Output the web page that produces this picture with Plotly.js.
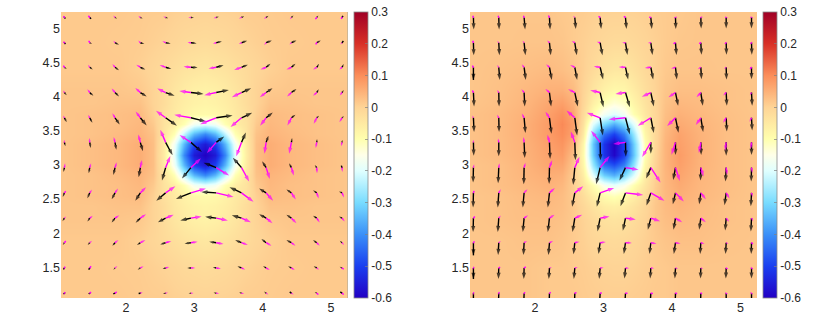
<!DOCTYPE html>
<html>
<head>
<meta charset="utf-8">
<script src="https://cdn.plot.ly/plotly-3.0.1.min.js"></script>
<style>html,body{margin:0;padding:0;background:#fff}</style>
</head>
<body>
<div id="plot" style="width:830px;height:334px"></div>
<script>
// heatmap nodes, y goes bottom to top
var fieldX = [1.05,1.5,1.9,2.2,2.4,2.55,2.7,2.85,3,3.15,3.3,3.45,3.6,3.75,3.9,4.1,4.4,4.8,5.25];
var fieldY = [1.05,1.5,1.9,2.2,2.4,2.55,2.7,2.85,3,3.15,3.3,3.45,3.6,3.75,3.9,4.1,4.4,4.8,5.25];

var leftField = [
 [.015,.015,.015,.012,.01,.01,.005,.003,.002,0,.002,.003,.005,.01,.01,.012,.015,.015,.015],
 [.015,.015,.012,.01,.005,0,-.005,-.012,-.015,-.018,-.015,-.012,-.005,0,.005,.01,.012,.015,.015],
 [.015,.015,.015,.005,-.005,-.015,-.025,-.035,-.04,-.045,-.04,-.035,-.025,-.015,-.005,.005,.015,.015,.015],
 [.02,.02,.02,.015,0,-.02,-.04,-.055,-.065,-.07,-.065,-.055,-.04,-.02,0,.015,.02,.02,.02],
 [.02,.02,.025,.025,0,-.02,-.045,-.06,-.07,-.075,-.07,-.06,-.045,-.02,0,.025,.025,.02,.02],
 [.02,.025,.03,.035,.005,-.03,-.05,-.07,-.085,-.09,-.085,-.07,-.05,-.03,.005,.035,.03,.025,.02],
 [.02,.025,.03,.04,.015,-.035,-.06,-.105,-.17,-.19,-.17,-.105,-.06,-.035,.015,.04,.03,.025,.02],
 [.02,.025,.035,.045,.025,-.04,-.105,-.23,-.35,-.41,-.35,-.23,-.105,-.04,.025,.045,.035,.025,.02],
 [.02,.03,.04,.055,.03,-.055,-.17,-.35,-.50,-.56,-.50,-.35,-.17,-.055,.03,.055,.04,.03,.02],
 [.02,.03,.04,.055,.03,-.06,-.19,-.41,-.56,-.60,-.56,-.41,-.19,-.06,.03,.055,.04,.03,.02],
 [.02,.03,.04,.055,.03,-.055,-.17,-.35,-.50,-.56,-.50,-.35,-.17,-.055,.03,.055,.04,.03,.02],
 [.02,.025,.035,.045,.025,-.04,-.105,-.23,-.35,-.41,-.35,-.23,-.105,-.04,.025,.045,.035,.025,.02],
 [.02,.025,.03,.04,.015,-.035,-.06,-.105,-.17,-.19,-.17,-.105,-.06,-.035,.015,.04,.03,.025,.02],
 [.02,.025,.03,.035,.005,-.03,-.05,-.07,-.085,-.09,-.085,-.07,-.05,-.03,.005,.035,.03,.025,.02],
 [.02,.02,.025,.025,0,-.02,-.045,-.06,-.07,-.075,-.07,-.06,-.045,-.02,0,.025,.025,.02,.02],
 [.02,.02,.02,.015,0,-.02,-.04,-.055,-.065,-.07,-.065,-.055,-.04,-.02,0,.015,.02,.02,.02],
 [.015,.015,.015,.005,-.005,-.015,-.025,-.035,-.04,-.045,-.04,-.035,-.025,-.015,-.005,.005,.015,.015,.015],
 [.015,.015,.012,.01,.005,0,-.005,-.012,-.015,-.018,-.015,-.012,-.005,0,.005,.01,.012,.015,.015],
 [.015,.015,.015,.012,.01,.01,.005,.003,.002,0,.002,.003,.005,.01,.01,.012,.015,.015,.015]
];
var rightField = [
 [.02,.02,.02,.015,.015,.015,.012,.01,.008,.008,.008,.01,.012,.015,.015,.02,.02,.02,.02],
 [.02,.02,.02,.015,.015,.012,.01,.005,.002,0,0,.003,.008,.012,.015,.02,.02,.02,.02],
 [.02,.02,.025,.025,.02,.012,.005,-.005,-.012,-.015,-.012,-.005,.005,.015,.022,.028,.028,.022,.02],
 [.02,.025,.03,.03,.025,.015,.002,-.015,-.03,-.035,-.03,-.018,0,.018,.03,.038,.032,.025,.02],
 [.02,.025,.032,.035,.03,.015,-.008,-.035,-.058,-.065,-.055,-.035,-.008,.018,.035,.045,.035,.025,.02],
 [.02,.025,.035,.04,.032,.012,-.02,-.06,-.095,-.11,-.09,-.06,-.02,.015,.038,.052,.04,.028,.02],
 [.022,.03,.04,.048,.04,.01,-.04,-.10,-.16,-.19,-.16,-.10,-.04,.01,.04,.06,.042,.03,.02],
 [.022,.03,.045,.055,.05,.012,-.06,-.20,-.32,-.36,-.30,-.20,-.06,.005,.042,.068,.045,.03,.02],
 [.022,.03,.048,.065,.065,.02,-.08,-.27,-.44,-.48,-.42,-.27,-.08,0,.045,.075,.048,.03,.02],
 [.025,.035,.05,.07,.08,.03,-.09,-.32,-.52,-.59,-.50,-.32,-.10,-.005,.045,.08,.05,.03,.02],
 [.025,.035,.052,.075,.09,.05,-.08,-.33,-.52,-.60,-.50,-.31,-.10,-.01,.045,.075,.05,.03,.02],
 [.025,.035,.055,.08,.10,.07,-.05,-.28,-.44,-.50,-.42,-.26,-.08,-.01,.04,.07,.048,.03,.02],
 [.025,.035,.055,.08,.105,.075,-.03,-.20,-.30,-.36,-.30,-.19,-.06,-.01,.035,.06,.045,.03,.02],
 [.025,.035,.05,.075,.095,.065,-.015,-.10,-.17,-.20,-.17,-.10,-.045,-.008,.03,.05,.04,.028,.02],
 [.022,.03,.045,.065,.075,.05,-.005,-.065,-.11,-.135,-.12,-.075,-.035,-.005,.025,.04,.035,.025,.02],
 [.02,.028,.04,.05,.052,.035,0,-.04,-.07,-.085,-.08,-.055,-.025,0,.02,.03,.03,.025,.02],
 [.02,.025,.03,.035,.03,.02,.005,-.015,-.035,-.045,-.045,-.03,-.012,.003,.015,.022,.022,.02,.02],
 [.02,.02,.022,.022,.02,.012,.005,-.002,-.01,-.015,-.015,-.01,-.002,.005,.012,.018,.02,.02,.02],
 [.02,.02,.02,.02,.015,.012,.01,.006,.003,.002,.002,.003,.006,.01,.012,.015,.02,.02,.02]
];

// arrow grid, rows run top to bottom
var gridX = [1.10,1.47,1.84,2.21,2.58,2.95,3.32,3.69,4.05,4.42,4.79,5.16];
var gridY = [5.16,4.79,4.43,4.06,3.69,3.33,2.96,2.59,2.22,1.86,1.49,1.12];

// quiver components, one line per row
var leftBlackU = [
 3,4,6,7,8,9,8,8,7,6,5,3,
 3,7,12,12,15,17,17,17,17,15,12,4,
 7,9,12,15,17,20,22,19,13,12,7,5,
 7,11,12,19,27,38,38,29,19,15,6,5,
 7,8,14,19,34,45,49,32,20,12,7,6,
 3,3,4,8,21,33,24,13,7,2,1,1,
 -3,-3,-5,-5,-11,-27,-38,-26,-12,-7,-6,-2,
 -5,-7,-10,-15,-28,-45,-45,-36,-21,-15,-11,-9,
 -6,-7,-10,-14,-23,-32,-33,-29,-21,-15,-11,-9,
 -5,-6,-8,-10,-16,-19,-21,-19,-14,-15,-11,-7,
 -3,-3,-5,-8,-9,-11,-10,-12,-9,-10,-9,-7,
 -3,-3,-5,-5,-8,-7,-8,-7,-6,-5,-6,-5
];
var leftBlackV = [
 -3,-4,-4,-3,-2,-1,2,4,5,6,6,5,
 -4,-4,-6,-4,-3,-2,4,6,7,7,7,5,
 -5,-7,-9,-7,-5,-1,6,8,11,11,11,10,
 -8,-10,-12,-12,-10,-4,8,13,13,11,10,8,
 -13,-15,-20,-23,-24,-11,7,15,16,9,6,5,
 -12,-17,-22,-27,-39,-29,18,30,20,13,10,8,
 -13,-17,-22,-29,-39,-33,15,30,19,13,8,6,
 -12,-16,-19,-24,-24,-18,3,17,13,10,8,4,
 -9,-10,-13,-14,-12,-7,4,9,12,10,7,5,
 -7,-7,-9,-7,-5,-3,3,8,11,8,8,6,
 -4,-5,-5,-5,-3,0,3,5,6,5,5,4,
 -2,-2,-2,-1,-2,0,2,4,5,4,4,4
];
var leftMagentaU = [
 -3,-4,-5,-6,-7,-8,-8,-8,-7,-5,-4,-3,
 -3,-3,-5,-6,-10,-10,-10,-8,-6,-6,-3,-5,
 -3,-5,-8,-12,-18,-22,-23,-22,-17,-15,-11,-8,
 -4,-7,-10,-15,-25,-35,-36,-29,-19,-13,-11,-7,
 -4,-5,-8,-14,-29,-50,-48,-33,-18,-12,-9,-8,
 -1,-1,-4,-6,-16,-34,-28,-16,-5,-7,-3,-3,
 2,4,5,5,14,30,39,23,11,7,1,1,
 4,7,9,17,29,45,52,36,21,13,6,6,
 5,9,13,17,24,32,35,28,19,15,9,8,
 4,7,10,15,17,20,22,19,16,12,9,6,
 2,4,7,10,11,13,14,11,11,10,7,5,
 2,4,5,7,7,8,9,8,7,7,5,5
];
var leftMagentaV = [
 4,5,6,5,3,1,-2,-3,-4,-5,-5,-4,
 3,6,6,7,5,1,-3,-4,-7,-5,-5,-5,
 5,8,10,8,7,2,-4,-8,-7,-7,-7,-7,
 6,10,12,14,12,5,-8,-14,-14,-12,-10,-9,
 7,9,14,19,21,9,-19,-28,-24,-23,-18,-13,
 8,13,16,24,38,22,-32,-42,-34,-34,-17,-12,
 13,13,16,23,35,28,-24,-42,-34,-24,-17,-13,
 5,10,13,17,20,13,-12,-27,-24,-20,-17,-14,
 5,7,9,12,10,5,-7,-12,-15,-15,-13,-10,
 5,6,8,8,5,3,-4,-7,-9,-9,-9,-7,
 4,5,6,5,3,0,-2,-5,-6,-6,-5,-4,
 3,4,4,4,2,1,-1,-2,-4,-4,-4,-4
];

var rightBlackU = [
 1,1,3,2,3,3,3,3,1,1,0,0,
 1,2,4,4,6,7,6,5,3,2,1,1,
 0,3,5,7,7,9,8,7,4,2,1,0,
 2,1,2,5,9,10,13,9,8,6,2,2,
 2,1,4,6,7,8,13,9,9,7,2,2,
 1,0,2,2,2,1,1,0,0,1,0,0,
 -1,-2,-1,-1,-5,-12,-18,-14,-7,-1,-2,-1,
 -1,-3,-4,-5,-8,-10,-15,-13,-8,-5,-5,-2,
 -1,-3,-4,-5,-7,-8,-8,-9,-6,-5,-3,-2,
 0,-2,-2,-3,-4,-5,-5,-4,-5,-2,-2,-1,
 0,-1,-1,-2,-3,-3,-3,-2,-2,-1,-1,0,
 0,-1,-1,-1,-1,-2,-2,-2,-1,-1,0,0
];
var rightBlackV = [
 -36,-36,-36,-36,-35,-35,-35,-35,-35,-33,-33,-33,
 -38,-38,-38,-38,-38,-38,-37,-37,-37,-36,-36,-36,
 -38,-38,-38,-38,-38,-37,-37,-37,-37,-36,-37,-36,
 -42,-42,-42,-42,-42,-44,-44,-42,-40,-40,-40,-40,
 -43,-43,-46,-48,-53,-53,-50,-46,-45,-43,-41,-38,
 -40,-42,-47,-50,-54,-54,-43,-34,-38,-38,-40,-38,
 -45,-47,-50,-49,-52,-50,-39,-33,-37,-39,-42,-42,
 -44,-44,-44,-44,-42,-42,-40,-38,-34,-34,-37,-40,
 -42,-42,-42,-42,-42,-40,-38,-35,-35,-35,-37,-40,
 -38,-37,-37,-37,-35,-34,-34,-34,-34,-34,-34,-34,
 -33,-33,-33,-33,-33,-33,-32,-32,-32,-32,-32,-32,
 -33,-33,-33,-33,-33,-33,-33,-33,-33,-33,-33,-33
];
var rightMagentaU = [
 -2,-2,-2,-3,-5,-5,-5,-5,-3,-2,-3,-3,
 -2,-5,-5,-7,-9,-10,-10,-9,-6,-5,-4,-3,
 -3,-5,-7,-10,-14,-19,-20,-18,-13,-9,-6,-4,
 -3,-5,-8,-12,-20,-30,-30,-27,-21,-13,-9,-5,
 -3,-5,-7,-12,-25,-40,-50,-39,-25,-15,-9,-6,
 -1,-2,-2,-6,-12,-27,-37,-26,-12,-6,-3,-2,
 2,2,4,8,14,28,39,29,13,8,3,2,
 2,6,10,16,25,42,53,41,25,15,10,3,
 4,6,12,15,22,28,31,28,20,15,9,5,
 3,6,9,11,14,17,19,17,15,11,7,4,
 2,4,5,7,9,10,11,10,8,7,4,3,
 1,2,3,4,5,5,6,6,5,4,3,2
];
var rightMagentaV = [
 5,5,5,6,5,3,3,1,-1,-1,1,1,
 6,5,6,7,5,3,0,-1,-3,-3,-3,-3,
 5,7,9,9,7,3,1,-2,-4,-6,-5,-5,
 6,8,10,11,10,7,-4,-13,-14,-14,-9,-8,
 7,9,13,18,22,15,-5,-24,-25,-22,-15,-12,
 8,12,16,23,33,35,-5,-44,-37,-32,-25,-20,
 10,13,15,22,33,35,-6,-45,-40,-27,-22,-16,
 6,11,11,15,20,15,-6,-24,-26,-19,-17,-12,
 5,8,9,10,10,5,-4,-9,-12,-12,-11,-9,
 4,5,5,5,3,2,-1,-3,-3,-4,-4,-4,
 3,3,3,3,2,1,-1,-1,-2,-2,-3,-3,
 3,3,3,3,2,1,0,-1,-1,-1,-2,-2
];

var xTicks = [2,3,4,5];
var yTicks = [1.5,2,2.5,3,3.5,4,4.5,5];
var cbarTicks = [0.3,0.2,0.1,0,-0.1,-0.2,-0.3,-0.4,-0.5,-0.6];

var colorLevels = [-0.6,-0.5,-0.4,-0.3,-0.2,-0.15,-0.1,0,0.1,0.2,0.3];
var colorValues = ['#2200c4','#1a3ff0','#3a90f8','#78dcff','#e0ffff','#ffffe8','#ffffae','#fed496','#fb8e5a','#d83027','#a00026'];

var zMin = -0.6, zMax = 0.3;
var quiverScale = 1/205;
var axisRange = [1.05,5.24];

var cscale = colorLevels.map(function(v,i){ return [(v-zMin)/(zMax-zMin), colorValues[i]]; });

function arrows(U,V,color,xa,ya){
    var x=[],y=[],s=[];
    gridY.forEach(function(gy,r){
        gridX.forEach(function(gx,c){
            var k = r*12+c, u = U[k], v = V[k];
            var len = Math.sqrt(u*u+v*v)/3; // px on screen
            x.push(gx, gx+u*quiverScale, null);
            y.push(gy, gy+v*quiverScale, null);
            s.push(0, Math.max(2.5,Math.min(6.5,len*0.65)), 0);
        });
    });
    return {type:'scatter',mode:'lines+markers',x:x,y:y,xaxis:xa,yaxis:ya,hoverinfo:'skip',showlegend:false,
        line:{color:color,width:1.4},
        marker:{symbol:'arrow',angleref:'previous',size:s,color:color,line:{width:0}}};
}

function field(z,xa,ya,cbx){
    return {type:'heatmap',x:fieldX,y:fieldY,z:z,xaxis:xa,yaxis:ya,zmin:zMin,zmax:zMax,zsmooth:'best',
        colorscale:cscale,hoverinfo:'skip',
        colorbar:{x:cbx,xanchor:'left',y:36/334,yanchor:'bottom',len:286/334,lenmode:'fraction',
            thickness:13.5,thicknessmode:'pixels',xpad:0,ypad:0,outlinecolor:'#8a8a8a',outlinewidth:0.8,
            tickmode:'array',tickvals:cbarTicks,ticktext:cbarTicks.map(String),
            ticks:'inside',ticklen:3,tickwidth:0.7,tickcolor:'#808080',
            tickfont:{family:'Liberation Sans',size:12,color:'#262626'}}};
}

function xax(dom){
    return {domain:dom,range:axisRange,tickmode:'array',tickvals:xTicks,showgrid:false,zeroline:false,
        showline:false,ticks:'',tickfont:{family:'Liberation Sans',size:12.5,color:'#262626'}};
}
function yax(anchor){
    return {domain:[36/334,322/334],anchor:anchor,range:axisRange,tickmode:'array',tickvals:yTicks,showgrid:false,zeroline:false,
        showline:false,ticks:'',tickfont:{family:'Liberation Sans',size:12.5,color:'#262626'}};
}

var traces = [
    field(leftField,'x','y',354/830),
    arrows(leftBlackU,leftBlackV,'#000000','x','y'),
    arrows(leftMagentaU,leftMagentaV,'#ff00ff','x','y'),
    field(rightField,'x2','y2',763/830),
    arrows(rightBlackU,rightBlackV,'#000000','x2','y2'),
    arrows(rightMagentaU,rightMagentaV,'#ff00ff','x2','y2')
];

var layout = {
    width:830,height:334,margin:{l:0,r:0,t:0,b:0},paper_bgcolor:'#fff',plot_bgcolor:'#fff',
    xaxis:xax([61/830,347.5/830]),yaxis:yax('x'),
    xaxis2:xax([470/830,757/830]),yaxis2:yax('x2'),
    shapes:[{type:'line',xref:'x',yref:'paper',x0:5.24,x1:5.24,y0:36/334,y1:322/334,line:{color:'#a08a66',width:1}}]
};

Plotly.newPlot('plot',traces,layout,{staticPlot:true});
</script>
</body>
</html>
